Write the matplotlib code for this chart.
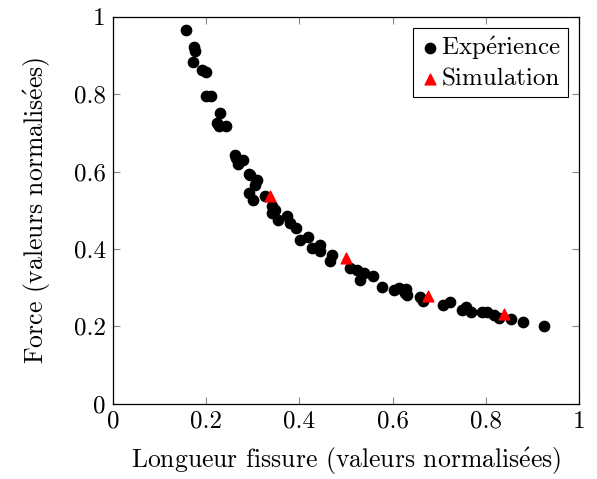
import numpy as np
import matplotlib
matplotlib.use('Agg')
import matplotlib.pyplot as plt

plt.rcParams['font.family'] = ['cmr10', 'DejaVu Serif']
plt.rcParams['mathtext.fontset'] = 'cm'
plt.rcParams['axes.formatter.use_mathtext'] = True

# Experimental points (normalised crack length, normalised force)
exp_x = [0.157, 0.174, 0.177, 0.173, 0.192, 0.200, 0.199, 0.210, 0.230, 0.223,
         0.227, 0.242, 0.261, 0.280, 0.268, 0.270, 0.293, 0.309, 0.305, 0.291,
         0.300, 0.327, 0.341, 0.348, 0.341, 0.355, 0.373, 0.380, 0.393, 0.402,
         0.418, 0.427, 0.445, 0.445, 0.470, 0.466, 0.509, 0.524, 0.538, 0.531,
         0.559, 0.577, 0.602, 0.613, 0.627, 0.629, 0.631, 0.658, 0.665, 0.709,
         0.724, 0.749, 0.758, 0.768, 0.792, 0.803, 0.817, 0.828, 0.855, 0.879,
         0.925, 0.295, 0.264]
exp_y = [0.965, 0.922, 0.912, 0.882, 0.863, 0.856, 0.794, 0.794, 0.751, 0.725,
         0.717, 0.719, 0.643, 0.631, 0.619, 0.630, 0.594, 0.579, 0.566, 0.544,
         0.527, 0.537, 0.510, 0.501, 0.493, 0.475, 0.484, 0.467, 0.454, 0.424,
         0.432, 0.402, 0.411, 0.394, 0.385, 0.368, 0.351, 0.346, 0.338, 0.320,
         0.329, 0.303, 0.295, 0.299, 0.286, 0.296, 0.282, 0.275, 0.266, 0.256,
         0.264, 0.243, 0.251, 0.236, 0.238, 0.238, 0.230, 0.221, 0.219, 0.211,
         0.200, 0.592, 0.635]

# Simulation points
sim_x = [0.338, 0.501, 0.676, 0.838]
sim_y = [0.536, 0.376, 0.279, 0.233]

e_acc = r'$\mathrm{\acute{e}}$'

fig = plt.figure(figsize=(5.97, 4.79), dpi=100)
ax = fig.add_axes([0.189, 0.157, 0.781, 0.808])

ax.scatter(exp_x, exp_y, s=55, c='black', marker='o', label='Exp' + e_acc + 'rience', zorder=2)
ax.scatter(sim_x, sim_y, s=60, c='red', marker='^', label='Simulation', zorder=3)

ax.set_xlim(0, 1)
ax.set_ylim(0, 1)
ax.set_xticks([0, 0.2, 0.4, 0.6, 0.8, 1])
ax.set_xticklabels(['0', '0.2', '0.4', '0.6', '0.8', '1'])
ax.set_yticks([0, 0.2, 0.4, 0.6, 0.8, 1])
ax.set_yticklabels(['0', '0.2', '0.4', '0.6', '0.8', '1'])
ax.tick_params(direction='in', top=True, right=True, color='#888888',
               length=5, labelsize=18, pad=5)
for sp in ax.spines.values():
    sp.set_linewidth(0.9)

ax.set_xlabel('Longueur fissure (valeurs normalis' + e_acc + 'es)', fontsize=18.5, labelpad=9)
ax.set_ylabel('Force (valeurs normalis' + e_acc + 'es)', fontsize=18.5, labelpad=15)

leg = ax.legend(loc='upper right', fontsize=18, fancybox=False, framealpha=1,
                edgecolor='black', handletextpad=0.0, borderpad=0.25,
                labelspacing=0.25, handlelength=0.9, borderaxespad=0.45)
leg.get_frame().set_linewidth(0.8)

fig.savefig('out.png', dpi=100)
